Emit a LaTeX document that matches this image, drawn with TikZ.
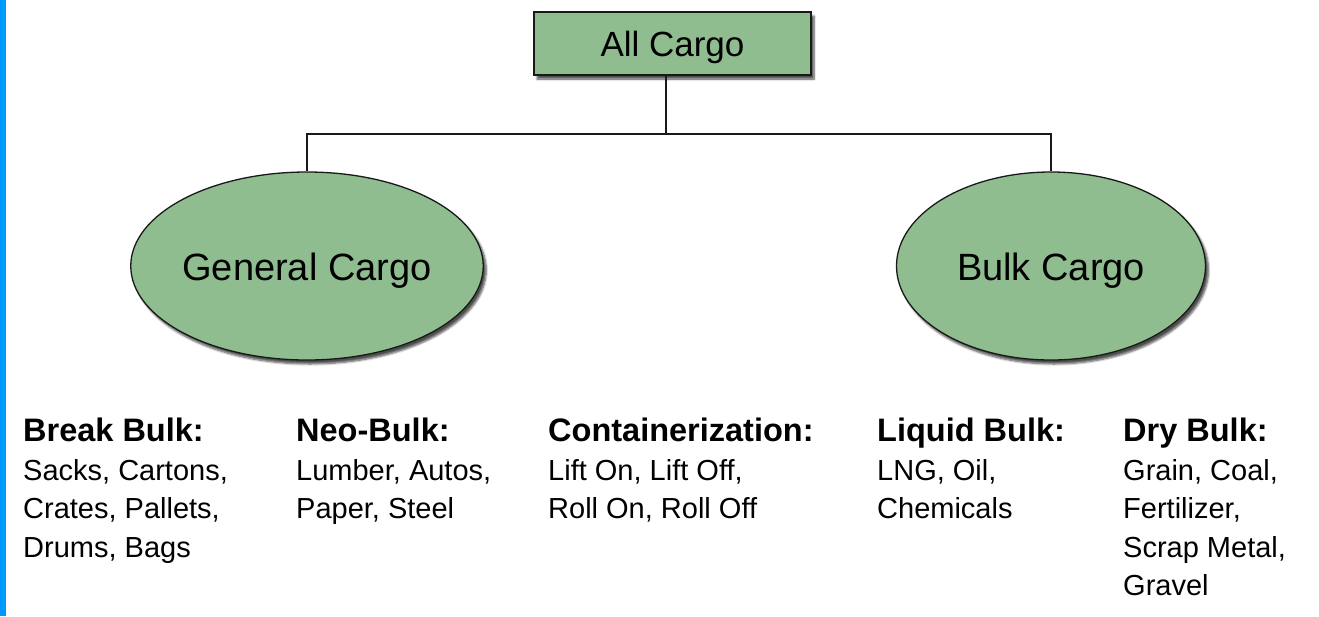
\documentclass[tikz,border=0pt]{standalone}
\usepackage{fontspec}
\setmainfont{Liberation Sans}
\usetikzlibrary{shapes.geometric,shadows.blur}
\definecolor{cargogreen}{RGB}{143,189,143}
\definecolor{edgeblue}{RGB}{0,153,255}
\newcommand\cargohead[1]{{\fontsize{32.5}{38.5}\selectfont\bfseries #1}}
\begin{document}
\begin{tikzpicture}[x=1pt,y=-1pt,
    cargo/.style={draw=black!90, line width=1.3pt, fill=cargogreen, inner sep=0pt,
        blur shadow={shadow xshift=3pt, shadow yshift=-4pt, shadow blur steps=6, shadow opacity=70}},
    cargobox/.style={cargo, rectangle, minimum width=277pt, minimum height=63pt,
        text height=33pt, text depth=7.4pt, font=\fontsize{35}{40}\selectfont},
    cargoclass/.style={cargo, ellipse, minimum width=309pt, minimum height=188pt,
        text height=36pt, text depth=8pt, font=\fontsize{38}{44}\selectfont},
    kind/.style={anchor=north west, align=left, inner sep=0pt,
        font=\fontsize{29}{38.5}\selectfont},
    link/.style={line width=1.3pt, draw=black!90}]
    \useasboundingbox (0,0) rectangle (1319,616);
    \fill[edgeblue] (0,0) rectangle (6,616);
    \node[cargobox] (all) at (672.5,43.5) {All Cargo};
    \node[cargoclass] (general) at (307,266) {General Cargo};
    \node[cargoclass] (bulk) at (1051,266) {Bulk Cargo};
    \coordinate (split) at (666,134);
    \draw[link] (split |- all.south) -- (split) -| (general.north);
    \draw[link] (split) -| (bulk.north);
    \foreach \x/\n/\t in {
        23/breakbulk/{\cargohead{Break Bulk:}\\Sacks, Cartons,\\Crates, Pallets,\\Drums, Bags},
        296/neobulk/{\cargohead{Neo-Bulk:}\\Lumber, Autos,\\Paper, Steel},
        548/container/{\cargohead{Containerization:}\\Lift On, Lift Off,\\Roll On, Roll Off},
        877/liquidbulk/{\cargohead{Liquid Bulk:}\\LNG, Oil,\\Chemicals},
        1123/drybulk/{\cargohead{Dry Bulk:}\\Grain, Coal,\\Fertilizer,\\Scrap Metal,\\Gravel}}
    \node[kind] (\n) at (\x,418) {\t};
\end{tikzpicture}
\end{document}
